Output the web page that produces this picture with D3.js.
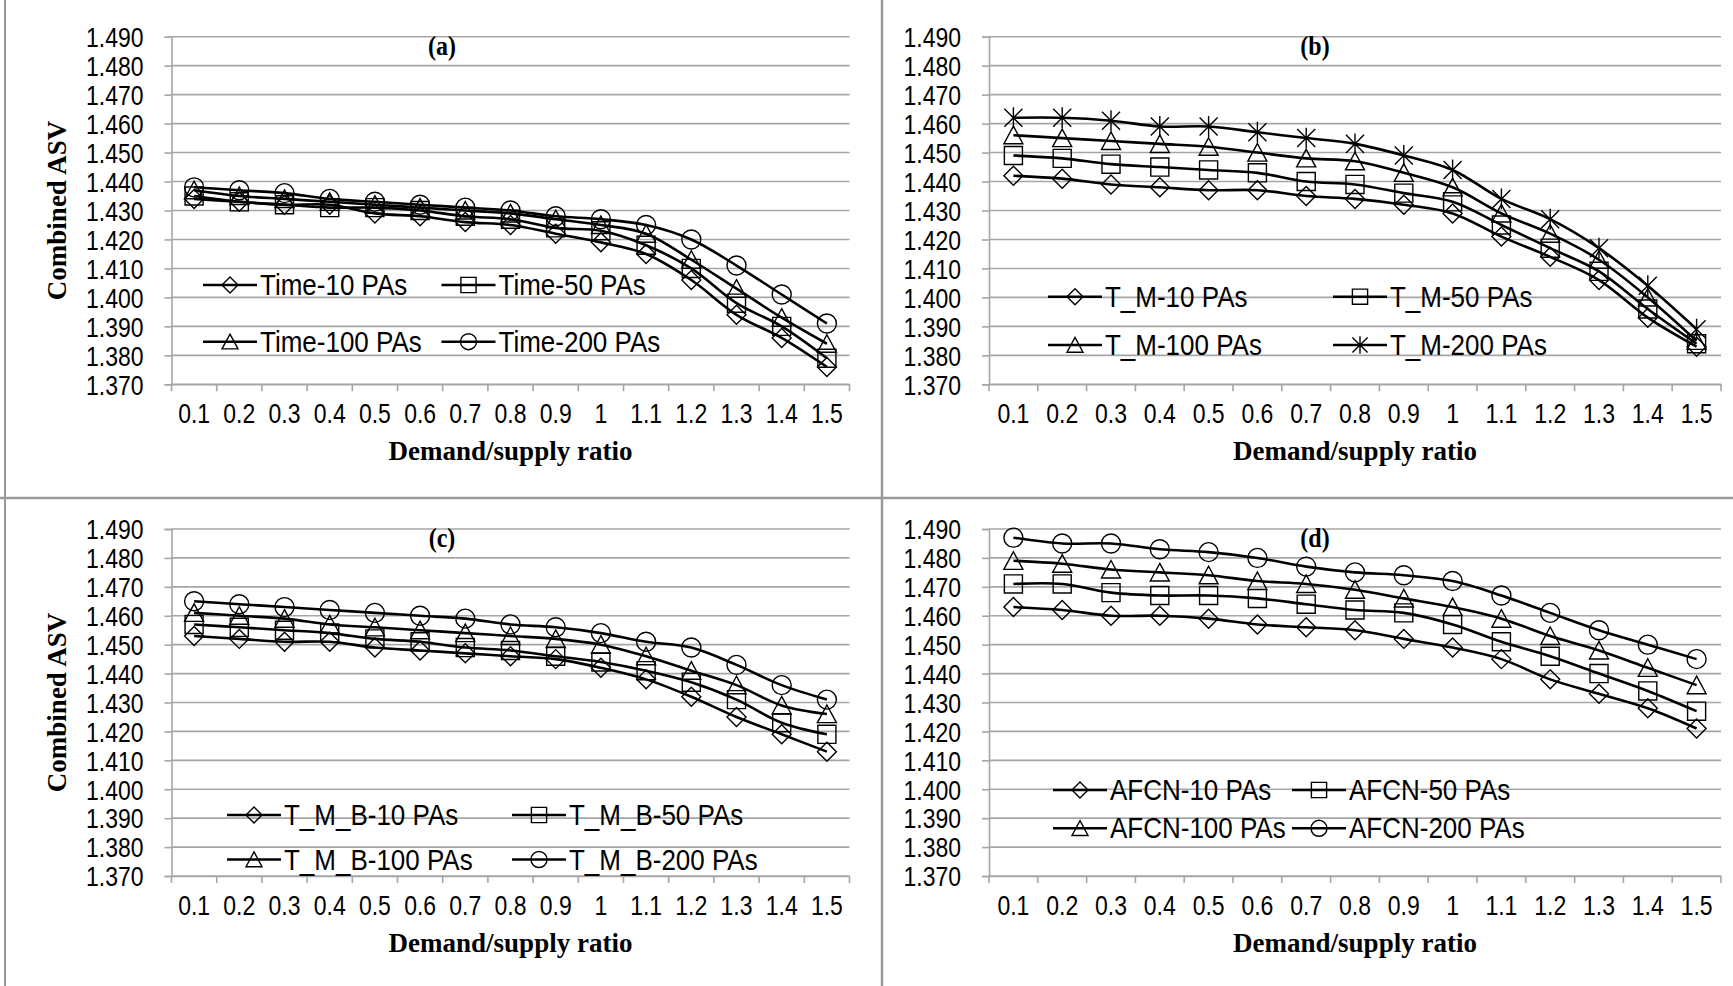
<!DOCTYPE html>
<html>
<head>
<meta charset="utf-8">
<script src="https://cdn.jsdelivr.net/npm/d3@7"></script>
<style>
  html, body { margin: 0; padding: 0; background: #fff; }
  svg { display: block; }
</style>
</head>
<body>
<svg id="chart" width="1733" height="986"></svg>
<script>
// ---------------- DATA ----------------
const categories = ["0.1","0.2","0.3","0.4","0.5","0.6","0.7","0.8","0.9","1","1.1","1.2","1.3","1.4","1.5"];
const yTickValues = [1.37,1.38,1.39,1.40,1.41,1.42,1.43,1.44,1.45,1.46,1.47,1.48,1.49];

// (a) Time
const namesA = ["Time-10 PAs","Time-50 PAs","Time-100 PAs","Time-200 PAs"];
const time10  = [1.434,1.433,1.432,1.432,1.429,1.428,1.426,1.425,1.422,1.419,1.415,1.406,1.394,1.386,1.376];
const time50  = [1.435,1.433,1.432,1.431,1.431,1.430,1.428,1.427,1.424,1.423,1.418,1.410,1.398,1.390,1.379];
const time100 = [1.437,1.435,1.434,1.433,1.432,1.431,1.430,1.429,1.427,1.425,1.422,1.413,1.403,1.393,1.384];
const time200 = [1.438,1.437,1.436,1.434,1.433,1.432,1.431,1.430,1.428,1.427,1.425,1.420,1.411,1.401,1.391];

// (b) T_M
const namesB = ["T_M-10 PAs","T_M-50 PAs","T_M-100 PAs","T_M-200 PAs"];
const tm10  = [1.442,1.441,1.439,1.438,1.437,1.437,1.435,1.434,1.432,1.429,1.421,1.414,1.406,1.393,1.383];
const tm50  = [1.449,1.448,1.446,1.445,1.444,1.443,1.440,1.439,1.436,1.433,1.425,1.417,1.409,1.396,1.384];
const tm100 = [1.456,1.455,1.454,1.453,1.452,1.450,1.448,1.447,1.443,1.438,1.429,1.422,1.413,1.400,1.385];
const tm200 = [1.462,1.462,1.461,1.459,1.459,1.457,1.455,1.453,1.449,1.444,1.434,1.427,1.417,1.404,1.389];

// (c) T_M_B
const namesC = ["T_M_B-10 PAs","T_M_B-50 PAs","T_M_B-100 PAs","T_M_B-200 PAs"];
const tmb10  = [1.453,1.452,1.451,1.451,1.449,1.448,1.447,1.446,1.445,1.442,1.438,1.432,1.425,1.419,1.413];
const tmb50  = [1.457,1.456,1.455,1.454,1.452,1.451,1.449,1.448,1.446,1.444,1.441,1.437,1.431,1.423,1.419];
const tmb100 = [1.461,1.460,1.459,1.457,1.456,1.455,1.454,1.453,1.452,1.450,1.446,1.441,1.436,1.429,1.426];
const tmb200 = [1.465,1.464,1.463,1.462,1.461,1.460,1.459,1.457,1.456,1.454,1.451,1.449,1.443,1.436,1.431];

// (d) AFCN
const namesD = ["AFCN-10 PAs","AFCN-50 PAs","AFCN-100 PAs","AFCN-200 PAs"];
const afcn10  = [1.463,1.462,1.460,1.460,1.459,1.457,1.456,1.455,1.452,1.449,1.445,1.438,1.433,1.428,1.421];
const afcn50  = [1.471,1.471,1.468,1.467,1.467,1.466,1.464,1.462,1.461,1.457,1.451,1.446,1.440,1.434,1.427];
const afcn100 = [1.479,1.478,1.476,1.475,1.474,1.472,1.471,1.469,1.466,1.463,1.459,1.453,1.448,1.442,1.436];
const afcn200 = [1.487,1.485,1.485,1.483,1.482,1.480,1.477,1.475,1.474,1.472,1.467,1.461,1.455,1.450,1.445];

const xTitle = "Demand/supply ratio";
const yTitle = "Combined ASV";

// ---------------- LAYOUT ----------------
const panels = [
  { label:"(a)", names:namesA, series:[time10,time50,time100,time200], markers:["diamond","square","triangle","circle"],
    plot:{x0:171.5,y0:36.7,x1:849.5,y1:384.3}, labelPos:[442,46], showYTitle:true,
    legendRows:[285,341.7], legendCols:[203,441.5] },
  { label:"(b)", names:namesB, series:[tm10,tm50,tm100,tm200], markers:["diamond","square","triangle","star"],
    plot:{x0:989,y0:36.7,x1:1721,y1:384.3}, labelPos:[1315,46], showYTitle:false,
    legendRows:[296.7,345], legendCols:[1048,1333] },
  { label:"(c)", names:namesC, series:[tmb10,tmb50,tmb100,tmb200], markers:["diamond","square","triangle","circle"],
    plot:{x0:171.5,y0:529,x1:849.5,y1:876}, labelPos:[442,538], showYTitle:true,
    legendRows:[815,859.5], legendCols:[227,512] },
  { label:"(d)", names:namesD, series:[afcn10,afcn50,afcn100,afcn200], markers:["diamond","square","triangle","circle"],
    plot:{x0:989,y0:529,x1:1721,y1:876}, labelPos:[1315,538], showYTitle:false,
    legendRows:[790,828.3], legendCols:[1053,1292] }
];

const GRID = "#a6a6a6";
const SANS = "'Liberation Sans', Arial, sans-serif";
const SERIF = "'Liberation Serif', 'Times New Roman', serif";
const SY = 1.2; // vertical stretch of sans text

const svg = d3.select("#chart");

// frame lines
svg.append("line").attr("x1",5).attr("x2",5).attr("y1",0).attr("y2",986).attr("stroke","#9a9a9a").attr("stroke-width",2);
svg.append("line").attr("x1",882).attr("x2",882).attr("y1",0).attr("y2",986).attr("stroke","#9a9a9a").attr("stroke-width",2.5);
svg.append("line").attr("x1",0).attr("x2",1733).attr("y1",498).attr("y2",498).attr("stroke","#9a9a9a").attr("stroke-width",2.5);

function markerPath(type, s) {
  const r = s / 2;
  switch (type) {
    case "diamond": return `M0,${-r}L${r},0L0,${r}L${-r},0Z`;
    case "square": return `M${-r*0.95},${-r*0.95}H${r*0.95}V${r*0.95}H${-r*0.95}Z`;
    case "triangle": return `M0,${-r*0.95}L${r},${r*0.9}L${-r},${r*0.9}Z`;
    case "circle": return `M${r},0A${r},${r} 0 1,1 ${-r},0A${r},${r} 0 1,1 ${r},0Z`;
    case "star": {
      const a = r * 0.95;
      return `M${-a},${-a}L${a},${a}M${-a},${a}L${a},${-a}M0,${-r*1.1}L0,${r*1.1}`;
    }
  }
}

panels.forEach(p => {
  const g = svg.append("g");
  const x = d3.scaleBand().domain(categories).range([p.plot.x0, p.plot.x1]);
  const y = d3.scaleLinear().domain([1.37, 1.49]).range([p.plot.y1, p.plot.y0]);

  // gridlines
  g.append("g").selectAll("line").data(yTickValues).join("line")
    .attr("x1", p.plot.x0).attr("x2", p.plot.x1)
    .attr("y1", d => y(d)).attr("y2", d => y(d))
    .attr("stroke", GRID).attr("stroke-width", 1.6);

  // y axis
  const yAxis = d3.axisLeft(y).tickValues(yTickValues).tickFormat(d3.format(".3f")).tickSize(7);
  const ya = g.append("g").attr("transform", `translate(${p.plot.x0},0)`).call(yAxis);
  ya.select(".domain").attr("stroke", GRID).attr("stroke-width", 1.6);
  ya.selectAll(".tick line").attr("stroke", GRID).attr("stroke-width", 1.6);
  ya.selectAll(".tick text")
    .attr("x", null).attr("dy", null)
    .attr("text-anchor", "end").attr("dominant-baseline", "central")
    .attr("transform", `translate(-28,0) scale(1,${SY})`)
    .attr("font-family", SANS).attr("font-size", 23).attr("fill", "#000");

  // x axis
  const xAxis = d3.axisBottom(x).tickSize(0);
  const xa = g.append("g").attr("transform", `translate(0,${p.plot.y1})`).call(xAxis);
  xa.select(".domain").attr("stroke", GRID).attr("stroke-width", 1.6);
  xa.selectAll(".tick text")
    .attr("y", null).attr("dy", null)
    .attr("dominant-baseline", "central")
    .attr("transform", `translate(0,29) scale(1,${SY})`)
    .attr("font-family", SANS).attr("font-size", 23).attr("fill", "#000");
  // tick marks at category boundaries
  const bounds = categories.map(c => x(c)).concat([p.plot.x1]);
  g.append("g").selectAll("line").data(bounds).join("line")
    .attr("x1", d => d).attr("x2", d => d)
    .attr("y1", p.plot.y1).attr("y2", p.plot.y1 + 7)
    .attr("stroke", GRID).attr("stroke-width", 1.6);

  // x title
  g.append("text").attr("x", (p.plot.x0 + p.plot.x1) / 2).attr("y", p.plot.y1 + 67)
    .attr("text-anchor", "middle").attr("dominant-baseline", "central")
    .attr("font-family", SERIF).attr("font-weight", "bold").attr("font-size", 27)
    .text(xTitle);

  if (p.showYTitle) {
    g.append("text")
      .attr("transform", `translate(57,${(p.plot.y0 + p.plot.y1) / 2}) rotate(-90)`)
      .attr("text-anchor", "middle").attr("dominant-baseline", "central")
      .attr("font-family", SERIF).attr("font-weight", "bold").attr("font-size", 27)
      .text(yTitle);
  }

  // panel label
  g.append("text")
    .attr("transform", `translate(${p.labelPos[0]},${p.labelPos[1]}) scale(1,1.15)`)
    .attr("text-anchor", "middle").attr("dominant-baseline", "central")
    .attr("font-family", SERIF).attr("font-weight", "bold").attr("font-size", 24)
    .text(p.label);

  const cx = c => x(c) + x.bandwidth() / 2;
  const line = d3.line().x((d, i) => cx(categories[i])).y(d => y(d)).curve(d3.curveCatmullRom.alpha(0.5));

  // lines
  p.series.forEach(s => {
    g.append("path").attr("d", line(s)).attr("fill", "none").attr("stroke", "#000").attr("stroke-width", 2.6);
  });
  // markers
  p.series.forEach((s, k) => {
    g.append("g").selectAll("path").data(s).join("path")
      .attr("transform", (d, i) => `translate(${cx(categories[i])},${y(d)})`)
      .attr("d", markerPath(p.markers[k], 19))
      .attr("fill", "none").attr("stroke", "#000").attr("stroke-width", 1.4);
  });

  // legend
  p.names.forEach((name, k) => {
    const row = Math.floor(k / 2), col = k % 2;
    const lx = p.legendCols[col], ly = p.legendRows[row];
    const lg = g.append("g");
    lg.append("line").attr("x1", lx).attr("x2", lx + 54).attr("y1", ly).attr("y2", ly)
      .attr("stroke", "#000").attr("stroke-width", 2.6);
    lg.append("path").attr("transform", `translate(${lx + 27},${ly})`)
      .attr("d", markerPath(p.markers[k], 16))
      .attr("fill", "none").attr("stroke", "#000").attr("stroke-width", 1.4);
    lg.append("text")
      .attr("transform", `translate(${lx + 57},${ly}) scale(1,1.15)`)
      .attr("dominant-baseline", "central")
      .attr("font-family", SANS).attr("font-size", 26).attr("fill", "#000")
      .text(name);
  });
});
</script>
</body>
</html>
